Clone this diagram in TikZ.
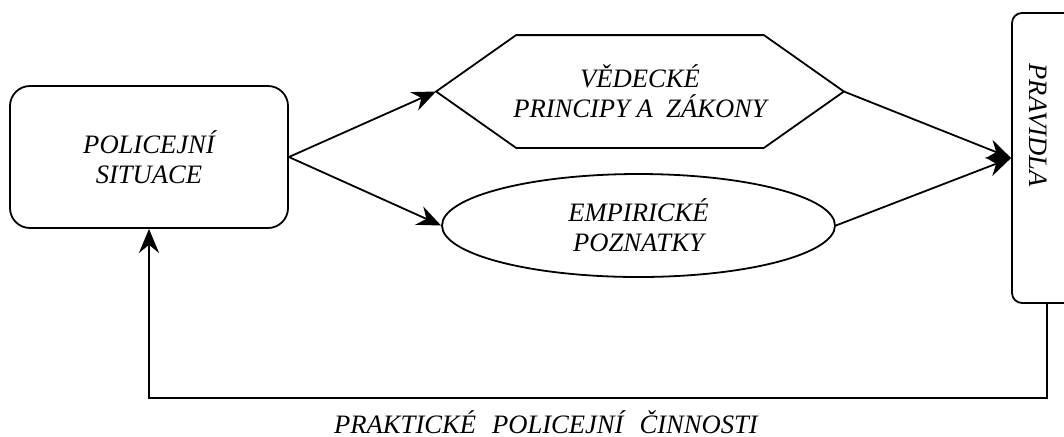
\documentclass[tikz,border=0pt]{standalone}
\usepackage{fontspec}
\setmainfont{Liberation Serif}
\usetikzlibrary{arrows.meta}
\usetikzlibrary{shapes.geometric}

\begin{document}
\begin{tikzpicture}[x=0.5pt,y=-0.5pt,line width=0.9pt,
    popis/.style={font=\fontsize{13.3}{15}\selectfont\itshape,align=center},
    spoj/.style={-{Stealth[length=12pt,width=10pt,inset=4pt]}}]
      \useasboundingbox (0,0) rectangle (1064,436);

      % Policejni situace
      \node [draw,rounded corners=10pt,minimum width=139pt,minimum height=71pt,popis] (situace) at (149,157) {POLICEJNÍ\\SITUACE};

      % Vedecke principy
      \node [minimum width=203pt,minimum height=55.5pt,inner sep=0pt,popis] (vedecke) at (640,91.5) {VĚDECKÉ\\PRINCIPY A\ \ ZÁKONY};
      \draw (vedecke.west) -- ([xshift=40pt]vedecke.north west) -- ([xshift=-40pt]vedecke.north east)
      -- (vedecke.east) -- ([xshift=-40pt]vedecke.south east) -- ([xshift=40pt]vedecke.south west) -- cycle;

      % Empiricke poznatky
      \node [draw,ellipse,minimum width=196.5pt,minimum height=51.5pt,inner sep=0pt,popis] (empiricke) at (638.5,225.5) {EMPIRICKÉ\\POZNATKY};

      % Pravidla
      \node [draw,rounded corners=5pt,minimum width=35pt,minimum height=145pt] (pravidla) at (1047,158) {};
      \node [popis,rotate=-90] (pravidlatext) at (1038,125) {PRAVIDLA};

      % Edges
      \draw [spoj] (situace.east) -- (vedecke.west);
      \draw [spoj] (situace.east) -- (empiricke.west);
      \draw [spoj] (vedecke.east) -- (pravidla.west);
      \draw [spoj] (empiricke.east) -- (pravidla.west);

      % Zpetna vazba
      \coordinate (roh) at (1047,398);
      \draw [spoj] (pravidla.south) -- (roh) -| (situace.south);
      \node [popis,anchor=base] (cinnosti) at (546,433) {PRAKTICKÉ\hspace{0.6em}POLICEJNÍ\hspace{0.6em}ČINNOSTI};
\end{tikzpicture}
\end{document}
